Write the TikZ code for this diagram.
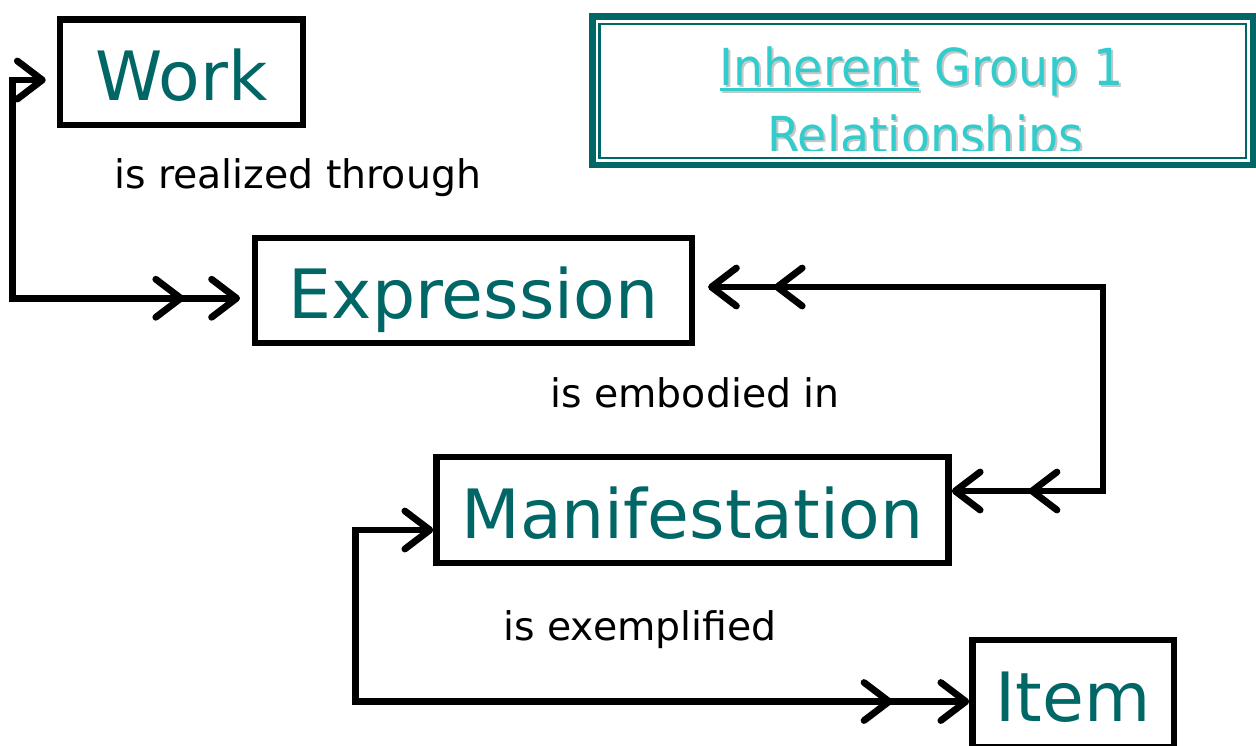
\documentclass[tikz,border=0pt]{standalone}
\usepackage{fontspec}
\setmainfont{DejaVu Sans}
\newfontfamily\titlefont{DejaVu Sans}[FakeStretch=0.93]
\usetikzlibrary{arrows.meta}
\definecolor{darkteal}{RGB}{0,102,102}
\definecolor{lightteal}{RGB}{51,204,204}
\newcommand\ulword[1]{\setbox0\hbox{#1}\rlap{\rule[-2.75pt]{\wd0}{1.25pt}}\box0\relax}
\tikzset{
  chev/.tip={Straight Barb[length=12.5pt,width=19pt,round]},
  entity/.style={draw=black, line width=3.25pt, fill=white, text=darkteal,
    font=\fontsize{34}{40}\selectfont, inner sep=0pt, text height=28pt, text depth=0pt},
  rel/.style={font=\fontsize{19.7}{24}\selectfont, text=black, inner sep=0pt, anchor=base},
  conn/.style={draw=black, line width=3.4pt, line join=miter},
  titletext/.style={font=\titlefont\fontsize{25.5}{30}\selectfont, inner sep=0pt, anchor=base},
}
\begin{document}
\begin{tikzpicture}[x=0.5pt,y=-0.5pt]
\useasboundingbox (0,0) rectangle (1256,745);
\fill[white] (0,0) rectangle (1256,745);

% title box
\node[draw=darkteal, line width=3.25pt, minimum width=330.25pt, minimum height=74.25pt,
      inner sep=0pt, outer sep=0pt] (title) at (922.75,90.75) {};
\draw[darkteal, line width=1.25pt] ([shift={(7,7.5)}]title.north west) rectangle ([shift={(-7,-7)}]title.south east);
\begin{scope}
  \clip (600,26) rectangle (1245,150);
  \node[titletext, text=black!22] (t1s) at (924,87) {\ulword{Inherent} Group 1};
  \node[titletext, text=black!22] (t2s) at (927,155) {Relationships};
  \node[titletext, text=lightteal] (t1) at (922,85) {\ulword{Inherent} Group 1};
  \node[titletext, text=lightteal] (t2) at (925,153) {Relationships};
\end{scope}

% entities
\node[entity, minimum width=121.5pt, minimum height=52.75pt] (work) at (181.5,72.25) {Work};
\node[entity, minimum width=218.5pt, minimum height=52.5pt] (exp) at (473.5,290.5) {Expression};
\node[entity, minimum width=256pt, minimum height=53pt] (man) at (692.5,510) {Manifestation};
\node[entity, minimum width=100.75pt, minimum height=53.5pt] (item) at (1073.25,693.5) {Item};

% labels
\node[rel] (l1) at (297.5,188) {is realized through};
\node[rel] (l2) at (695,407) {is embodied in};
\node[rel] (l3) at (640,640) {is exemplified};

% connectors
\coordinate (a1) at ([shift={(-11,7.75)}]work.west);
\coordinate (a2) at ([shift={(-11.75,7.75)}]exp.west);
\draw[conn, {chev}-{chev[sep=12pt]chev}] (a1) -- ++(-33,0) |- (a2);

\coordinate (b1) at ([shift={(12.75,-3.5)}]exp.east);
\coordinate (b2) at ([shift={(0,-19)}]man.east);
\draw[conn, {chev[]chev[sep=17pt]}-{chev[sep=22.5pt]chev}] (b1) -- ++(395,0) |- (b2);

\coordinate (c1) at ([shift={(0,20)}]man.west);
\coordinate (c2) at ([shift={(0,8)}]item.west);
\draw[conn, {chev}-{chev[sep=22.5pt]chev}] (c1) -- ++(-78,0) |- (c2);
\end{tikzpicture}
\end{document}
